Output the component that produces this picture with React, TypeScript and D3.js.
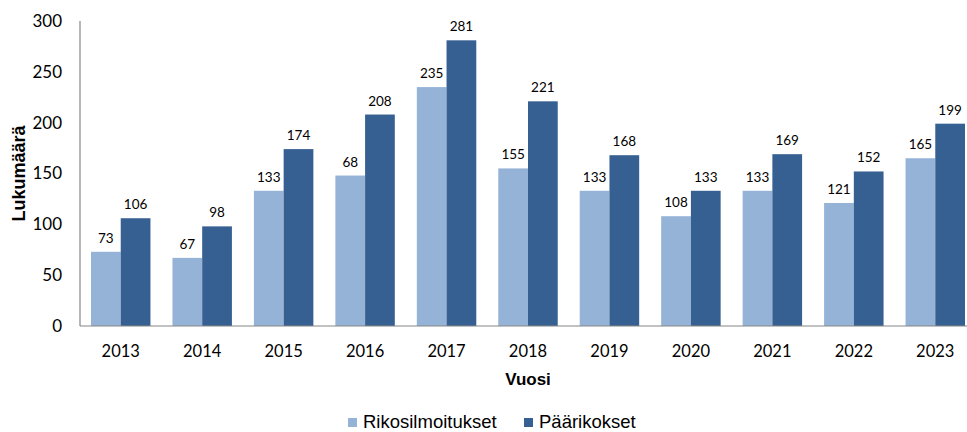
import * as d3 from "d3";

const years = ["2013", "2014", "2015", "2016", "2017", "2018", "2019", "2020", "2021", "2022", "2023"];
const seriesNames = ["Rikosilmoitukset", "Päärikokset"];
const reports = [73, 67, 133, 148, 235, 155, 133, 108, 133, 121, 165];
const reportLabels = ["73", "67", "133", "68", "235", "155", "133", "108", "133", "121", "165"];
const mainCrimes = [106, 98, 174, 208, 281, 221, 168, 133, 169, 152, 199];
const yTicks = [0, 50, 100, 150, 200, 250, 300];
const colors = ["#95b3d7", "#376092"];

const width = 967;
const height = 432;
const margin = { top: 21, bottom: 106, left: 80 };
const plotRight = 976;

export default function App() {
  const x0 = d3.scaleBand().domain(years).range([margin.left, plotRight]).padding(0);
  const x1 = d3
    .scaleBand()
    .domain(seriesNames)
    .range([x0.bandwidth() * 0.135, x0.bandwidth() * 0.865]);
  const y = d3.scaleLinear().domain([0, 300]).range([height - margin.bottom, margin.top]);

  const rows = years.map((year, i) => ({
    year,
    bars: [
      { name: seriesNames[0], value: reports[i], label: reportLabels[i] },
      { name: seriesNames[1], value: mainCrimes[i], label: String(mainCrimes[i]) },
    ],
  }));

  const labelFont = "Lato, 'Open Sans', sans-serif";
  const titleFont = "'Liberation Sans', Arial, sans-serif";

  return (
    <svg
      width={width}
      height={height}
      style={{ position: "absolute", left: 0, top: 0, background: "#fff" }}
    >
      {rows.map((row) => (
        <g key={row.year} transform={`translate(${x0(row.year)},0)`}>
          {row.bars.map((bar, j) => (
            <g key={bar.name}>
              <rect
                x={x1(bar.name)}
                y={y(bar.value)}
                width={x1.bandwidth()}
                height={y(0) - y(bar.value)}
                fill={colors[j]}
              />
              <text
                x={(x1(bar.name) || 0) + x1.bandwidth() / 2}
                y={y(bar.value) - 9}
                textAnchor="middle"
                fontFamily={labelFont}
                fontSize={13.5}
                fill="#000"
              >
                {bar.label}
              </text>
            </g>
          ))}
          <text
            x={x0.bandwidth() / 2}
            y={357}
            textAnchor="middle"
            fontFamily={labelFont}
            fontSize={16.5}
            fill="#000"
          >
            {row.year}
          </text>
        </g>
      ))}

      {/* axes */}
      <line x1={margin.left} x2={plotRight} y1={y(0)} y2={y(0)} stroke="#868686" strokeWidth={1.2} />
      <line x1={margin.left} x2={margin.left} y1={y(300)} y2={y(0)} stroke="#868686" strokeWidth={1.2} />
      {yTicks.map((t) => (
        <text
          key={t}
          x={62}
          y={y(t)}
          dy="0.35em"
          textAnchor="end"
          fontFamily={labelFont}
          fontSize={17}
          fill="#000"
        >
          {t}
        </text>
      ))}

      <text
        transform={`translate(25,${(y(0) + y(300)) / 2}) rotate(-90)`}
        textAnchor="middle"
        fontFamily={titleFont}
        fontWeight="bold"
        fontSize={18}
        fill="#000"
      >
        Lukumäärä
      </text>
      <text
        x={(margin.left + plotRight) / 2}
        y={385}
        textAnchor="middle"
        fontFamily={titleFont}
        fontWeight="bold"
        fontSize={17}
        fill="#000"
      >
        Vuosi
      </text>

      {/* legend */}
      {seriesNames.map((name, i) => {
        const lx = [348, 524][i];
        return (
          <g key={name}>
            <rect x={lx} y={418} width={9} height={9} fill={colors[i]} />
            <text x={lx + 15} y={428} fontFamily={titleFont} fontSize={18.5} fill="#000">
              {name}
            </text>
          </g>
        );
      })}
    </svg>
  );
}
